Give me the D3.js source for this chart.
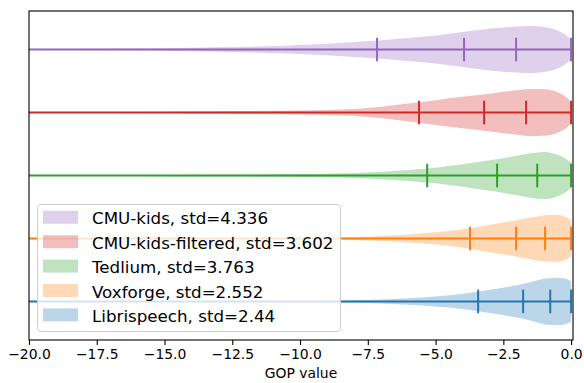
<!DOCTYPE html>
<html lang="en">
<head>
  <meta charset="UTF-8">
  <title>GOP violin plot</title>
  <style>
    body { margin: 0; background: #fff; }
    svg { display: block; font-family: 'DejaVu Sans', sans-serif; }
  </style>
</head>
<body>
<svg id="chart" width="584" height="383"></svg>

<script src="https://d3js.org/d3.v7.min.js"></script>
<script>
  // datasets, bottom (position 1) to top (position 5)
  const names = ["Librispeech", "Voxforge", "Tedlium", "CMU-kids-filtered", "CMU-kids"];
  const stds = ["2.44", "2.552", "3.763", "3.602", "4.336"];
  const colors = ["#1f77b4", "#ff7f0e", "#2ca02c", "#d62728", "#9467bd"];

  // quantile markers and extrema (min lies beyond the visible range)
  const quantiles = [
    [-3.43, -1.77, -0.77],
    [-3.73, -2.03, -0.96],
    [-5.31, -2.73, -1.25],
    [-5.61, -3.21, -1.66],
    [-7.16, -3.95, -2.03]
  ];
  const mins = [-25, -25, -25, -25, -25];
  const maxs = [0, 0, 0, 0, 0];

  // relative density (violin half-width) sampled along GOP value
  const grid = [-25, -20, -16, -13, -10, -8, -6, -5, -4, -3, -2, -1.5, -1, -0.5, -0.2, 0];
  const density = [
    [0.05, 0.1, 0.15, 0.3, 0.5, 1.2, 3.2, 5, 7.5, 11.5, 16, 19, 22.5, 23.4, 22.5, 20],
    [0.05, 0.1, 0.2, 0.3, 0.6, 1.5, 4, 6, 9, 13.5, 18, 20.5, 22.5, 23.2, 21, 18],
    [0.1, 0.2, 0.4, 0.8, 1.5, 2.5, 5.5, 8, 11.5, 15.5, 20, 22.5, 24, 21, 17, 13],
    [0.15, 0.3, 0.6, 1.2, 2, 3.5, 9, 12.5, 15.8, 19, 22.5, 23.8, 23.5, 20.5, 16, 10.7],
    [0.3, 0.5, 1, 2.2, 4.5, 7.5, 11.5, 14, 17.5, 21, 23, 23.6, 22.5, 19, 14.5, 10]
  ];

  const xTicks = [-20, -17.5, -15, -12.5, -10, -7.5, -5, -2.5, 0];

  const widths = 0.75;
  const m = { left: 29, right: 573, top: 11, bottom: 340 };

  const svg = d3.select("#chart");

  const x = d3.scaleLinear().domain([-20, 0.07]).range([m.left, m.right]);
  const y = d3.scaleLinear().domain([0.3875, 5.6125]).range([m.bottom, m.top]);

  svg.append("defs").append("clipPath").attr("id", "clip")
    .append("rect")
    .attr("x", m.left).attr("y", m.top)
    .attr("width", m.right - m.left).attr("height", m.bottom - m.top);

  const plot = svg.append("g").attr("clip-path", "url(#clip)");

  names.forEach((name, i) => {
    const pos = i + 1;
    const peak = d3.max(density[i]);
    const half = v => (v / peak) * widths / 2;
    const pts = grid.map((g, k) => [g, density[i][k]]);

    const area = d3.area()
      .x(d => x(d[0]))
      .y0(d => y(pos - half(d[1])))
      .y1(d => y(pos + half(d[1])))
      .curve(d3.curveMonotoneX);

    plot.append("path")
      .attr("d", area(pts))
      .attr("fill", colors[i])
      .attr("fill-opacity", 0.3);

    // horizontal bar from min to max
    plot.append("line")
      .attr("x1", x(mins[i])).attr("x2", x(maxs[i]))
      .attr("y1", y(pos)).attr("y2", y(pos))
      .attr("stroke", colors[i]).attr("stroke-width", 2);

    const marks = [mins[i], maxs[i]].concat(quantiles[i]);
    plot.selectAll(null)
      .data(marks)
      .enter()
      .append("line")
      .attr("x1", d => x(d)).attr("x2", d => x(d))
      .attr("y1", y(pos - widths / 4)).attr("y2", y(pos + widths / 4))
      .attr("stroke", colors[i]).attr("stroke-width", 2);
  });

  // frame
  svg.append("rect")
    .attr("x", m.left).attr("y", m.top)
    .attr("width", m.right - m.left).attr("height", m.bottom - m.top)
    .attr("fill", "none").attr("stroke", "#000").attr("stroke-width", 1.1);

  // x axis
  const xAxis = d3.axisBottom(x)
    .tickValues(xTicks)
    .tickSize(4.9)
    .tickPadding(4)
    .tickFormat(d => d3.format(".1f")(d).replace("-", "\u2212"));

  const ax = svg.append("g")
    .attr("transform", `translate(0,${m.bottom})`)
    .call(xAxis);
  ax.select(".domain").remove();
  ax.selectAll("line").attr("stroke", "#000").attr("stroke-width", 1.1);
  ax.selectAll("text")
    .attr("fill", "#000")
    .style("font-size", "13.9px")
    .style("font-family", "'DejaVu Sans', sans-serif");

  svg.append("text")
    .attr("x", (m.left + m.right) / 2)
    .attr("y", 378)
    .attr("text-anchor", "middle")
    .style("font-size", "13.9px")
    .text("GOP value");

  // legend, top entry first
  const legend = svg.append("g");
  legend.append("rect")
    .attr("x", 37.5).attr("y", 204.5)
    .attr("width", 303).attr("height", 127)
    .attr("rx", 3).attr("ry", 3)
    .attr("fill", "#fff").attr("fill-opacity", 0.8)
    .attr("stroke", "#cccccc").attr("stroke-width", 1);

  const order = d3.range(names.length).reverse();
  order.forEach((i, row) => {
    const base = 224.3 + row * 24.4;
    legend.append("rect")
      .attr("x", 43).attr("y", base - 13.5)
      .attr("width", 35).attr("height", 13)
      .attr("fill", colors[i]).attr("fill-opacity", 0.3);
    legend.append("text")
      .attr("x", 92).attr("y", base)
      .style("font-size", "16.7px")
      .text(`${names[i]}, std=${stds[i]}`);
  });
</script>
</body>
</html>
